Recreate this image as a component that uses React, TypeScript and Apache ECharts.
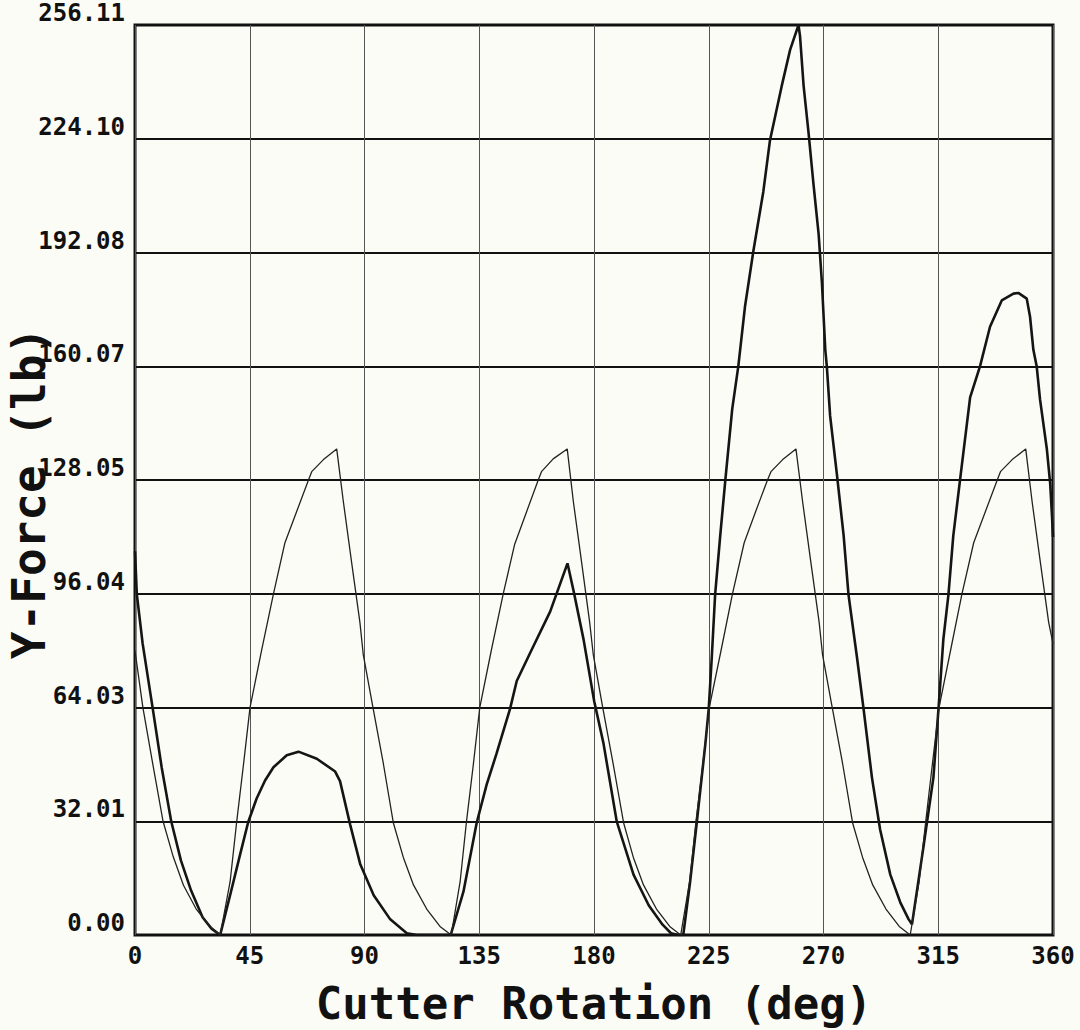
import React, { useEffect, useRef } from 'react';
import * as echarts from 'echarts';

// Thin curve (regular tooth force), angle in degrees and force in lb
const thinAngles = [
  0, 3.1, 7, 11, 15, 19, 24, 29.5, 33.4, 37.3, 39.9, 42.5, 45.1, 49.7, 54.3, 58.8, 63.4, 68, 69.3, 73.9, 79.1,
  81.7, 85, 88.2, 89.5, 93.4, 97.4, 101.3, 105.2, 109.2, 114.4, 119.6, 124,
  127.5, 130, 132.6, 135.2, 139.7, 144.4, 148.9, 153.5, 158.1, 159.4, 164, 169.5,
  171.9, 175.2, 178.3, 179.7, 183.5, 187.5, 191.6, 195.4, 199.4, 204.5, 209.7, 214,
  217.5, 220, 222.6, 225.2, 229.8, 234.3, 238.9, 243.4, 248, 249.4, 254, 259.2,
  261.8, 265.1, 268.3, 269.6, 273.5, 277.5, 281.4, 285.3, 289.3, 294.5, 299.7, 304,
  307.5, 310.1, 312.6, 315.3, 319.8, 324.3, 328.9, 333.5, 338.1, 339.4, 344, 349.3,
  351.8, 355.1, 358.3, 360,
];
const thinForces = [
  80, 64, 48, 32, 22, 14, 7.3, 2.4, 0, 15, 32, 47.7, 64, 80.3, 96, 110.4, 119.2, 128, 130.4, 133.8, 136.8,
  122, 104.6, 88, 79, 63.7, 48.2, 31.6, 21.9, 14.1, 7.3, 2.4, 0,
  15, 32, 47.5, 64, 80, 96, 110, 119, 128, 130.4, 134, 136.8,
  122, 104.6, 88, 79, 63.7, 48.2, 31.6, 21.9, 14.1, 7.3, 2.4, 0,
  15, 32, 47.5, 64, 80, 96, 110.4, 119.2, 128, 130.4, 133.8, 136.8,
  122, 104.6, 88, 79, 63.7, 48.2, 31.6, 21.9, 14.1, 7.3, 2.4, 0,
  15, 32, 47.5, 64, 80, 96, 110.4, 119.2, 128, 130.4, 133.8, 136.8,
  122, 104.6, 88, 82,
];

// Thick curve (total / varying tooth force)
const thickAngles = [
  0, 0.7, 3, 6.9, 10.5, 14.2, 18, 22, 26.5, 30, 33.4,
  37.3, 41.3, 44.4, 47.7, 51, 54.3, 59.5, 64.1, 71.3, 78.5, 80.4, 84.4, 88.3, 93.6, 100.1, 106.6, 110.5,
  123.8, 128.8, 134, 137.9, 141.8, 147.1, 149.7, 154.9, 162.8, 169.6,
  172, 175.9, 180.1, 183.7, 188.9, 195.5, 201.5, 206.9, 210.2, 213,
  215, 217.7, 220.3, 223.7, 225, 226.2, 227.5, 229.5, 231.5, 234.2, 236.6, 239.2, 242.5, 246.4, 249, 253.6, 256.9, 260.2,
  260.8, 262.2, 264.1, 266.1, 268.1, 269.4, 270.7, 271.3, 272.6, 275.2, 277.9, 279.8, 283.1, 285.7, 289, 292.2, 296.2, 300.1, 303.4, 304.7,
  309.2, 313.1, 315.1, 317, 319, 320.9, 323.5, 327.5, 331.4, 335.3, 339.9, 344.5, 346.4, 349.7,
  351, 352.3, 353.6, 354.9, 357.6, 358.9, 359.6, 360,
];
const thickForces = [
  108, 96, 82, 64, 47, 32, 21, 12.5, 5, 1.8, 0,
  11.2, 22.9, 31.8, 38.4, 43.5, 47.2, 50.6, 51.6, 49.6, 46, 43.3, 31, 20, 11.2, 4.4, 0.5, 0,
  0, 12.2, 31.6, 42.3, 51.1, 63.7, 71.5, 79.3, 91, 104.6,
  96.8, 83.2, 65.7, 54, 32, 17, 8.3, 2.9, 0.5, 0,
  0, 15, 31.6, 54, 63.7, 78.3, 95.8, 112.4, 128, 148, 160.1, 176.8, 192.5, 209.2, 223.6, 238.9, 249.1, 256.11,
  252.9, 239, 226, 211.1, 197.2, 183.3, 164.7, 160.1, 146.1, 130, 112.4, 95.8, 78.3, 63.7, 44.3, 29.7, 17, 9.2, 4.4, 3,
  24.8, 44.3, 63.7, 83.2, 95.8, 112.4, 127.8, 151.3, 160.1, 171.2, 178.6, 180.5, 180.7, 179.1,
  174, 164.7, 160.1, 150.8, 136.7, 127, 118, 112,
];

const xTickLabels = ['0', '45', '90', '135', '180', '225', '270', '315', '360'];
const yTickLabels = ['0.00', '32.01', '64.03', '96.04', '128.05', '160.07', '192.08', '224.10', '256.11'];
const yMax = 256.11;
const xTitle = 'Cutter Rotation (deg)';
const yTitle = 'Y-Force (lb)';

export default function App() {
  const ref = useRef<HTMLDivElement>(null);
  useEffect(() => {
    if (!ref.current) return;
    const chart = echarts.init(ref.current, null, { renderer: 'svg' });
    const font = '"DejaVu Sans Mono", monospace';
    const yInterval = yMax / 8;
    chart.setOption({
      animation: false,
      backgroundColor: '#fcfcf6',
      grid: {
        left: 135, right: 27, top: 25, bottom: 95,
        containLabel: false, outerBoundsMode: 'none',
        show: true, borderColor: '#111', borderWidth: 3, backgroundColor: 'transparent',
      },
      graphic: [
        {
          type: 'text', x: 29, y: 493, rotation: Math.PI / 2,
          style: {
            text: yTitle, fontFamily: font, fontWeight: 'bold', fontSize: 46, fill: '#111',
            align: 'center', verticalAlign: 'middle',
          },
        },
      ],
      xAxis: {
        type: 'value', min: 0, max: 360, interval: 45,
        name: xTitle, nameLocation: 'middle', nameGap: 46,
        nameTextStyle: { fontFamily: font, fontWeight: 'bold', fontSize: 44, color: '#111' },
        axisLine: { show: false }, axisTick: { show: false },
        axisLabel: {
          formatter: (v: number) => xTickLabels[Math.round(v / 45)] ?? '',
          fontFamily: font, fontWeight: 'bold', fontSize: 24, color: '#111', margin: 9,
        },
        splitLine: { show: true, lineStyle: { color: '#555', width: 1 } },
      },
      yAxis: {
        type: 'value', min: 0, max: yMax, interval: yInterval,
        axisLine: { show: false }, axisTick: { show: false },
        axisLabel: {
          formatter: (v: number) => yTickLabels[Math.round(v / yInterval)] ?? '',
          fontFamily: font, fontWeight: 'bold', fontSize: 24, color: '#111', margin: 10,
          verticalAlign: 'bottom',
        },
        splitLine: { show: true, lineStyle: { color: '#111', width: 2 } },
      },
      series: [
        {
          type: 'line', name: 'Thick', showSymbol: false, z: 3,
          data: thickAngles.map((a, i) => [a, thickForces[i]]),
          lineStyle: { color: '#151515', width: 2.6 },
        },
        {
          type: 'line', name: 'Thin', showSymbol: false, z: 4,
          data: thinAngles.map((a, i) => [a, thinForces[i]]),
          lineStyle: { color: '#222', width: 1.3 },
        },
      ],
    });
    return () => chart.dispose();
  }, []);
  return <div ref={ref} style={{ position: 'fixed', left: 0, top: 0, width: 1080, height: 1030 }} />;
}
